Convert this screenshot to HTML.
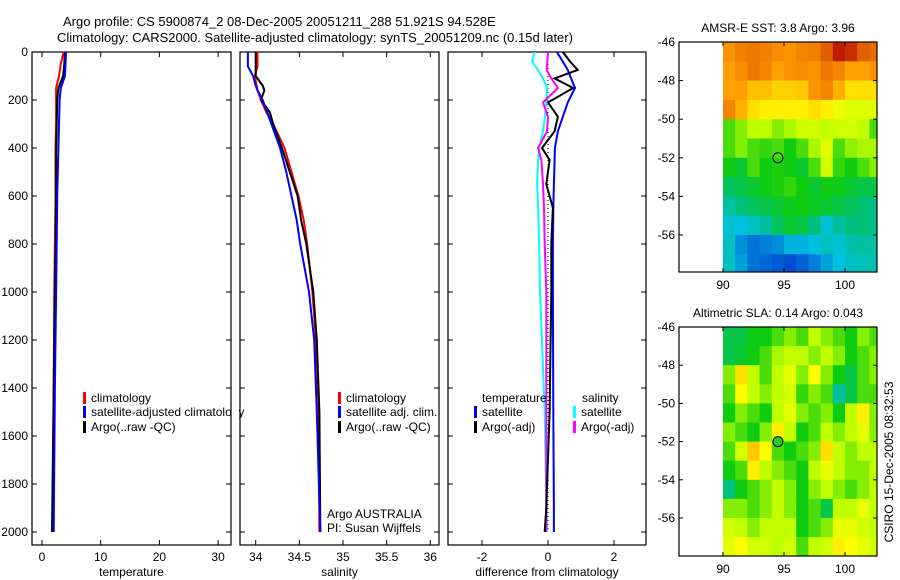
<!DOCTYPE html>
<html><head><meta charset="utf-8"><style>
html,body{margin:0;padding:0;background:#fff}
svg{display:block;font-family:"Liberation Sans",sans-serif;font-size:12px}
</style></head><body>
<svg id="fig" width="900" height="580" viewBox="0 0 900 580" xmlns="http://www.w3.org/2000/svg">
<rect x="0" y="0" width="900" height="580" fill="#fff"/>
<text x="63" y="26" font-size="13">Argo profile: CS 5900874_2 08-Dec-2005 20051211_288 51.921S 94.528E</text>
<text x="57" y="42" font-size="13">Climatology: CARS2000. Satellite-adjusted climatology: synTS_20051209.nc (0.15d later)</text>
<g id="g"></g>
</svg>
<script>
// ---- profile data ----
const depthT=[0,50,100,150,200,300,400,600,800,1000,1400,2000];
const argoT=[3.9,3.8,3.6,2.8,2.6,2.5,2.4,2.4,2.3,2.2,2.0,1.7];
const climT=[3.7,3.2,2.9,2.4,2.4,2.4,2.3,2.3,2.2,2.1,2.0,1.8];
const satT=[4.1,4.0,3.9,3.2,3.0,2.9,2.8,2.6,2.5,2.4,2.2,2.0];
const depthS=[0,60,100,140,160,200,250,300,400,500,600,700,800,900,1000,1200,1500,2000];
const argoS=[34.0,34.0,34.0,34.08,34.1,34.06,34.16,34.2,34.3,34.39,34.48,34.52,34.58,34.62,34.66,34.7,34.73,34.74];
const climS=[34.02,34.02,33.99,34.01,34.02,34.06,34.12,34.2,34.33,34.41,34.49,34.55,34.59,34.62,34.65,34.69,34.72,34.73];
const satS=[33.91,33.91,33.97,34.0,34.02,34.08,34.13,34.18,34.28,34.35,34.41,34.47,34.51,34.56,34.61,34.67,34.7,34.74];
const depthD=[0,40,75,110,150,210,270,330,400,450,550,650,800,1000,1500,1900,2000];
const dSatT=[0.27,0.45,0.6,0.7,0.82,0.6,0.45,0.3,0.21,0.2,0.18,0.16,0.15,0.15,0.16,0.18,0.18];
const dArgoT=[0.45,0.67,0.9,0.2,0.76,0.0,0.3,0.2,-0.18,0.05,-0.05,0.15,0.1,0.1,0.05,-0.05,-0.1];
const dSatS=[-0.4,-0.48,-0.3,-0.15,-0.03,-0.05,-0.09,-0.15,-0.27,-0.3,-0.33,-0.3,-0.27,-0.24,-0.1,-0.05,-0.03];
const dArgoS=[0.0,-0.02,-0.04,0.1,0.3,-0.15,0.0,-0.03,-0.3,-0.2,-0.15,-0.12,-0.1,-0.05,-0.05,-0.05,-0.05];
const depthTicks=[0,200,400,600,800,1000,1200,1400,1600,1800,2000];
const tTicks=[0,10,20,30];
const sTicks=[34,34.5,35,35.5,36];
const dTicks=[-2,0,2];
// ---- map data (rows from -46 southward, cols from 90E eastward, 1 degree cells) ----
const sstGrid=[
[0.82,0.85,0.86,0.85,0.83,0.82,0.84,0.85,0.9,0.97,0.95,0.9,0.88],
[0.8,0.83,0.86,0.84,0.8,0.82,0.83,0.82,0.86,0.84,0.8,0.8,0.82],
[0.8,0.8,0.76,0.76,0.74,0.74,0.75,0.82,0.84,0.78,0.72,0.72,0.72],
[0.84,0.78,0.72,0.7,0.7,0.7,0.7,0.72,0.7,0.66,0.64,0.64,0.64],
[0.5,0.55,0.6,0.6,0.55,0.58,0.62,0.62,0.6,0.62,0.62,0.6,0.5],
[0.5,0.55,0.5,0.48,0.5,0.45,0.5,0.58,0.64,0.5,0.56,0.58,0.58],
[0.45,0.42,0.5,0.45,0.46,0.45,0.42,0.5,0.62,0.48,0.45,0.5,0.55],
[0.38,0.4,0.42,0.45,0.46,0.48,0.45,0.42,0.45,0.44,0.42,0.4,0.4],
[0.3,0.35,0.38,0.4,0.42,0.44,0.45,0.43,0.42,0.4,0.38,0.36,0.34],
[0.22,0.2,0.25,0.3,0.38,0.42,0.4,0.35,0.22,0.3,0.35,0.36,0.34],
[0.25,0.12,0.08,0.1,0.12,0.18,0.18,0.2,0.25,0.22,0.28,0.3,0.3],
[0.25,0.15,0.08,0.06,0.04,0.02,0.05,0.1,0.15,0.2,0.24,0.26,0.28]];
const slaGrid=[
[0.4,0.4,0.45,0.45,0.5,0.55,0.5,0.6,0.55,0.5,0.45,0.55,0.5],
[0.4,0.42,0.45,0.5,0.58,0.6,0.6,0.55,0.6,0.55,0.45,0.5,0.55],
[0.55,0.72,0.6,0.5,0.6,0.65,0.55,0.68,0.55,0.45,0.4,0.5,0.55],
[0.5,0.68,0.6,0.55,0.6,0.62,0.48,0.55,0.5,0.3,0.4,0.5,0.5],
[0.45,0.55,0.5,0.45,0.6,0.65,0.55,0.5,0.55,0.45,0.6,0.7,0.55],
[0.55,0.5,0.45,0.55,0.7,0.6,0.45,0.5,0.6,0.55,0.6,0.65,0.55],
[0.5,0.62,0.75,0.68,0.5,0.45,0.5,0.55,0.72,0.6,0.55,0.6,0.6],
[0.45,0.5,0.7,0.6,0.55,0.5,0.45,0.6,0.65,0.6,0.55,0.55,0.6],
[0.35,0.45,0.5,0.55,0.6,0.55,0.45,0.55,0.6,0.55,0.5,0.55,0.6],
[0.55,0.55,0.5,0.55,0.6,0.55,0.45,0.5,0.4,0.6,0.6,0.65,0.6],
[0.62,0.6,0.55,0.6,0.6,0.6,0.45,0.5,0.55,0.65,0.65,0.62,0.6],
[0.65,0.68,0.62,0.62,0.6,0.62,0.5,0.6,0.62,0.7,0.68,0.65,0.62]];
const latTicks=[-46,-48,-50,-52,-54,-56];
const lonTicks=[90,95,100];
const floatPos=[94.5,-52];

const NS="http://www.w3.org/2000/svg";
const G=document.getElementById('g');
function mk(tag,attrs,parent){const e=document.createElementNS(NS,tag);for(const k in attrs)e.setAttribute(k,attrs[k]);(parent||G).appendChild(e);return e;}
function txt(x,y,s,anchor,parent){const t=mk('text',{x:x,y:y,'text-anchor':anchor||'start'},parent);t.textContent=s;return t;}

const yD=d=>52+d*0.24;
const panelTop=45,panelBot=545;
function panel(name,x0,x1,v0,v1,ticks,label,showDepth){
  const sx=v=>x0+(v-v0)/(v1-v0)*(x1-x0);
  const g=mk('g',{});
  
  
  const r=mk('rect',{x:x0,y:panelTop+7,width:x1-x0,height:panelBot-panelTop-7,fill:'none',stroke:'#000','stroke-width':1.2},g);
  
  
  ticks.forEach(t=>{
    const x=sx(t);
    mk('line',{x1:x,x2:x,y1:panelBot,y2:panelBot-5,stroke:'#000'},g);
    mk('line',{x1:x,x2:x,y1:52,y2:57,stroke:'#000'},g);
    const tl=txt(x,561,String(t),'middle',g);
    
    
  });
  depthTicks.forEach(d=>{
    const y=yD(d);
    mk('line',{x1:x0,x2:x0+5,y1:y,y2:y,stroke:'#000'},g);
    mk('line',{x1:x1,x2:x1-5,y1:y,y2:y,stroke:'#000'},g);
    if(showDepth){const tl=txt(x0-4,y+4,String(d),'end',g);
      
      }
  });
  const at=txt((x0+x1)/2,576,label,'middle',g);
  
  
  return {sx:sx,g:g};
}
function series(p,depths,vals,color,name,w){
  const pts=depths.map((d,i)=>p.sx(vals[i]).toFixed(1)+','+yD(d).toFixed(1)).join(' ');
  const pl=mk('polyline',{points:pts,fill:'none',stroke:color,'stroke-width':w||2,'stroke-linejoin':'miter'},p.g);
  
  
}
function legend(x,y,color,label,parent){
  const b=mk('rect',{x:x,y:y-10,width:3,height:12,fill:color},parent);
  
  
  const t=txt(x+8,y,label,'start',parent);
  
  
}

// panel 1: temperature
const p1=panel('temperature-panel',32,231,-1.7,32.2,tTicks,'temperature',true);
series(p1,depthT,climT,'#f00','climatology-temperature-line');
series(p1,depthT,argoT,'#000','argo-temperature-line');
series(p1,depthT,satT,'#00f','satellite-temperature-line');
legend(83,402,'#f00','climatology',p1.g);
legend(83,416,'#00f','satellite-adjusted climatology',p1.g);
legend(83,431,'#000','Argo(..raw -QC)',p1.g);
// white mask over legend overflow beyond panel 1
mk('rect',{x:232,y:404,width:7,height:16,fill:'#fff'});

// panel 2: salinity
const p2=panel('salinity-panel',240,439,33.82,36.1,sTicks,'salinity',false);
series(p2,depthS,climS,'#f00','climatology-salinity-line');
series(p2,depthS,argoS,'#000','argo-salinity-line');
series(p2,depthS,satS,'#00f','satellite-salinity-line');
legend(338,402,'#f00','climatology',p2.g);
legend(338,416,'#00f','satellite adj. clim.',p2.g);
legend(338,431,'#000','Argo(..raw -QC)',p2.g);
const a1=txt(327,518,'Argo AUSTRALIA','start',p2.g);


const a2=txt(327,532,'PI: Susan Wijffels','start',p2.g);



// panel 3: differences
const p3=panel('difference-panel',448,646,-3.03,2.97,dTicks,'difference from climatology',false);
const z=mk('line',{x1:p3.sx(0),x2:p3.sx(0),y1:yD(0),y2:yD(2000),stroke:'#000','stroke-dasharray':'1,3'},p3.g);


series(p3,depthD,dSatS,'#0ff','satellite-salinity-diff-line');
series(p3,depthD,dArgoS,'#f0f','argo-salinity-diff-line');
series(p3,depthD,dSatT,'#00f','satellite-temperature-diff-line');
series(p3,depthD,dArgoT,'#000','argo-temperature-diff-line');
const lt=txt(482,402,'temperature','start',p3.g);


const ls=txt(582,402,'salinity','start',p3.g);


legend(474,416,'#00f','satellite',p3.g);
legend(474,431,'#000','Argo(-adj)',p3.g);
legend(573,416,'#0ff','satellite',p3.g);
legend(573,431,'#f0f','Argo(-adj)',p3.g);

// colormap
const stops=[[0,[0,64,208]],[0.2,[0,192,224]],[0.35,[0,192,128]],[0.45,[16,204,16]],[0.6,[192,255,0]],[0.68,[255,255,0]],[0.8,[255,160,0]],[0.9,[224,96,0]],[1,[176,0,0]]];
function cmap(v){v=Math.max(0,Math.min(1,v));for(let i=1;i<stops.length;i++){if(v<=stops[i][0]){const a=stops[i-1],b=stops[i],t=(v-a[0])/(b[0]-a[0]);const c=a[1].map((q,k)=>Math.round(q+(b[1][k]-q)*t));return 'rgb('+c.join(',')+')';}}return 'rgb(176,0,0)';}

function mapPanel(name,title,grid,y46,pxPerDeg,yBot,filledDot){
  const x0=679,x1=877,lon90=723,pxLon=12.2;
  const sx=l=>lon90+(l-90)*pxLon, sy=la=>y46+(-46-la)*pxPerDeg;
  const g=mk('g',{});
  
  
  const clip=mk('clipPath',{id:name+'-clip'},g);
  mk('rect',{x:x0,y:y46,width:x1-x0,height:yBot-y46},clip);
  const cells=mk('g',{'clip-path':'url(#'+name+'-clip)'},g);
  grid.forEach((row,r)=>row.forEach((v,c)=>{
    const cell=mk('rect',{x:sx(90+c),y:sy(-46-r),width:pxLon+0.6,height:pxPerDeg+0.6,fill:cmap(v)},cells);
    
    
  }));
  const fr=mk('rect',{x:x0,y:y46,width:x1-x0,height:yBot-y46,fill:'none',stroke:'#000','stroke-width':1.2},g);
  
  
  latTicks.forEach(la=>{const y=sy(la);
    mk('line',{x1:x0,x2:x0+4,y1:y,y2:y,stroke:'#000'},g);
    mk('line',{x1:x1,x2:x1-4,y1:y,y2:y,stroke:'#000'},g);
    const t=txt(x0-4,y+4,String(la),'end',g);
    
    });
  lonTicks.forEach(lo=>{const x=sx(lo);
    mk('line',{x1:x,x2:x,y1:yBot,y2:yBot-4,stroke:'#000'},g);
    mk('line',{x1:x,x2:x,y1:y46,y2:y46+4,stroke:'#000'},g);
    const t=txt(x,yBot+17,String(lo),'middle',g);
    
    });
  const tt=txt(778,y46-10,title,'middle',g);
  
  
  const ci=mk('circle',{cx:sx(floatPos[0]),cy:sy(floatPos[1]),r:5,fill:filledDot?'#2c2':'none',stroke:'#000','stroke-width':1},g);
  
  
}
mapPanel('sst-map','AMSR-E SST: 3.8 Argo: 3.96',sstGrid,42,19.3,272,false);
mapPanel('sla-map','Altimetric SLA: 0.14  Argo: 0.043',slaGrid,327,19.1,556,true);

const cs=txt(0,0,'CSIRO 15-Dec-2005 08:32:53','middle');
cs.setAttribute('transform','translate(893,462) rotate(-90)');


</script>
</body></html>
